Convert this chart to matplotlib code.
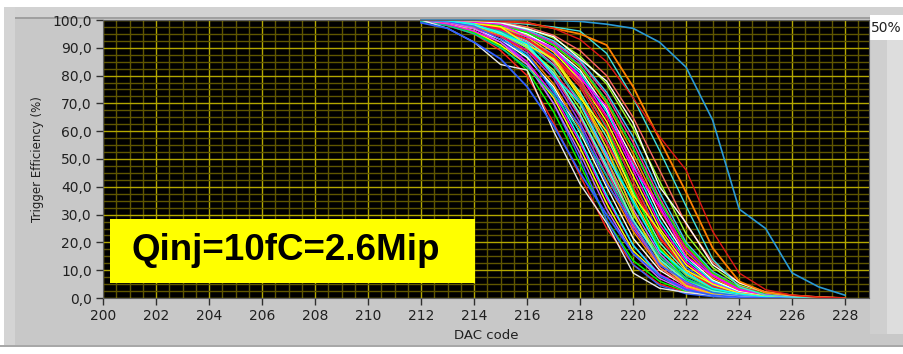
import matplotlib
matplotlib.use('Agg')
import matplotlib.pyplot as plt
from matplotlib.patches import Rectangle
from matplotlib.ticker import MultipleLocator, FuncFormatter

# DAC codes where the efficiency was measured
dac = list(range(212, 229))

# Trigger efficiency (%) of each channel
curves = [
    [100, 98, 95, 89, 80, 63, 44, 25, 12, 5, 2, 0.8, 0.2, 0, 0, 0, 0],
    [99.5, 98.5, 95.5, 90.5, 82, 67, 48, 28, 13.5, 6, 2.3, 0.9, 0.3, 0, 0, 0, 0],
    [100, 99, 97, 93, 85, 70, 50, 28, 12, 4.5, 1.5, 0.5, 0, 0, 0, 0, 0],
    [100, 99, 96, 91, 84, 72, 54, 34, 17, 8, 3, 1.2, 0.4, 0.1, 0, 0, 0],
    [99.8, 98.5, 96, 92, 85, 73, 56, 36, 19, 8.5, 3.5, 1.4, 0.5, 0.1, 0, 0, 0],
    [100, 99.5, 97.5, 94, 87, 75, 57, 37, 19, 8, 3, 1, 0.3, 0, 0, 0, 0],
    [99.8, 99, 96.8, 93, 86.5, 76, 59.5, 40, 21.5, 10, 4.2, 1.6, 0.6, 0.1, 0, 0, 0],
    [100, 99.5, 97.5, 94.5, 88, 77, 61, 42, 24, 11, 4.5, 1.8, 0.7, 0.2, 0, 0, 0],
    [100, 99.6, 98, 95, 89, 79, 63, 44, 25, 12, 5, 2, 0.8, 0.3, 0, 0, 0],
    [100, 99.5, 98, 95.5, 90, 80, 65, 46, 26, 12.5, 5.5, 2.2, 0.9, 0.3, 0.1, 0, 0],
    [100, 99.7, 98.5, 96, 91, 81, 66, 48, 28, 13.5, 6, 2.4, 1, 0.3, 0, 0, 0],
    [100, 99.5, 98, 95, 90, 82, 68, 50, 30, 15, 6.5, 2.5, 1, 0.3, 0, 0, 0],
    [100, 100, 99, 97, 93, 85, 70, 50, 27, 11, 4, 1.2, 0.4, 0, 0, 0, 0],
    [100, 99.8, 99, 96.5, 92, 84, 70, 52, 32, 16, 7, 3, 1.2, 0.4, 0.1, 0, 0],
    [100, 99.7, 98.5, 96, 91.5, 83.5, 71, 54, 34, 17.5, 8, 3.2, 1.3, 0.5, 0.1, 0, 0],
    [100, 99.8, 99, 97, 93, 86, 73, 56, 36, 18.5, 8.5, 3.5, 1.4, 0.5, 0.1, 0, 0],
    [100, 99, 97, 94, 89, 81, 70, 56, 39, 23, 12, 5.5, 2.5, 1, 0.4, 0, 0],
    [100, 99.8, 99, 96.8, 92.5, 85.5, 74, 58, 38, 20, 9.5, 4, 1.5, 0.6, 0.1, 0, 0],
    [100, 99.8, 99, 96.8, 93, 86.5, 76, 59.5, 40, 21.5, 10, 4.2, 1.6, 0.6, 0.1, 0, 0],
    [100, 100, 99.5, 98, 95, 89, 78, 61, 39, 18, 6.5, 2, 0.6, 0.1, 0, 0, 0],
    [100, 99.9, 99.2, 97.3, 93.8, 87.5, 77, 61.5, 42, 23, 11, 4.6, 1.8, 0.7, 0.2, 0, 0],
    [100, 99.9, 99.4, 97.8, 94.5, 88.5, 78.5, 63.5, 44, 25, 12, 5, 2, 0.8, 0.2, 0, 0],
    [100, 99.9, 99.4, 98, 95, 89, 80, 65.5, 46, 26.5, 13, 5.5, 2.2, 0.9, 0.3, 0, 0],
    [100, 100, 99.5, 98, 95, 89.5, 81, 67, 48, 28, 14, 6, 2.4, 1, 0.3, 0, 0],
    [100, 100, 99.5, 98, 95, 90, 82, 68, 50, 30, 15, 6.5, 2.5, 1, 0.3, 0, 0],
    [100, 100, 99.6, 98.4, 95.6, 91, 83, 70, 52, 32, 16.5, 7.2, 2.8, 1.1, 0.4, 0, 0],
    [100, 100, 99.7, 98.6, 96, 91.5, 84, 71, 54, 34, 17.5, 8, 3.2, 1.3, 0.5, 0.1, 0],
    [100, 100, 99.7, 98.7, 96.3, 92, 85, 73, 56, 36, 19, 8.5, 3.5, 1.4, 0.5, 0.1, 0],
    [100, 100, 99.8, 99, 96.5, 92.5, 85.5, 74, 58, 38, 20, 9.5, 4, 1.5, 0.6, 0.1, 0],
    [100, 100, 99.8, 99, 97, 93.5, 87, 77, 61, 42, 23, 11, 4.6, 1.8, 0.7, 0.2, 0],
    [100, 100, 99.9, 99.3, 97.5, 94.5, 89, 80, 65, 46, 26.5, 13, 5.5, 2.2, 1, 0.4, 0],
    [100, 99.2, 97, 92, 84, 70, 52, 32, 16, 7, 2.7, 1, 0.3, 0, 0, 0, 0],
    [99.5, 98, 95, 90, 83, 73, 60, 44, 28, 15, 7, 3, 1.2, 0.4, 0, 0, 0],
    [100, 100, 99.3, 97.5, 94, 87, 73, 54, 31, 13, 4.5, 1.5, 0.4, 0, 0, 0, 0],
    [100, 99.5, 98.5, 96.5, 93, 87, 78, 65, 49, 32, 18, 9, 4, 1.8, 0.8, 0.2, 0],
    [100, 99.6, 98.2, 95.5, 90.5, 81, 66, 47, 28, 14, 6, 2.5, 1, 0.3, 0, 0, 0],
    [100, 99.8, 99, 97, 93, 87, 77, 62, 42, 22, 10, 4, 1.5, 0.5, 0.1, 0, 0],
    [100, 100, 99.5, 98, 95.5, 91, 83.5, 71, 54, 35, 19, 9, 3.8, 1.5, 0.5, 0.1, 0],
    [100, 99.4, 97.8, 93, 88, 74, 62, 41, 27, 12, 6, 2, 0.8, 0.2, 0, 0, 0],
    [100, 99.9, 98.8, 97.5, 91, 86, 72, 60, 37, 24, 10, 5, 1.7, 0.6, 0.1, 0, 0],
    [100, 100, 99.2, 98.5, 94, 90, 79, 69, 47, 33, 15, 8, 2.9, 1.2, 0.3, 0, 0],
    [100, 99.7, 98.6, 95, 91.5, 80, 70, 51, 35, 17, 9, 3.5, 1.5, 0.4, 0, 0, 0],
    [100, 100, 99.6, 99, 96.8, 94, 86, 78, 63, 40, 27, 12, 5.5, 2, 0.8, 0.3, 0],
]
palette = ['#ff2020', '#00ff00', '#3366ff', '#ffff00', '#ff00ff', '#00ffff',
           '#ffffff', '#ff8c00', '#9933ff', '#ff3399', '#33ccff', '#99ff33',
           '#ff6666', '#cc66ff', '#00cc99', '#ffcc00', '#ff0066', '#66ffcc']

# channels that stand apart from the bundle
eff_white = [100, 97, 92, 84, 82, 60, 41, 27, 9, 3.5, 2, 1, 0.5, 0, 0, 0, 0]
eff_blue = [99, 97, 92, 86, 76, 62, 45, 30, 16, 8, 3, 1, 0.3, 0, 0, 0, 0]
eff_cyan = [100, 100, 99.8, 99.3, 98.5, 97.5, 96, 88, 72, 53, 33, 14, 4, 1, 0.3, 0, 0]
eff_orange = [100, 100, 99.8, 99.5, 99, 97, 95, 91, 76, 57, 38, 18, 6, 2, 1, 0.3, 0]
eff_red = [100, 100, 100, 99.5, 99, 97, 93, 85, 72, 58, 46, 24, 9, 3, 1, 0.3, 0]
eff_far = [100, 100, 100, 100, 100, 99.8, 99.5, 98.5, 97, 92, 83, 64, 32, 25, 9, 4, 1]

W, H = 904, 354
fig = plt.figure(figsize=(W / 100, H / 100), dpi=100, facecolor='#c8c8c8')

def px_rect(x0, y0, x1, y1, color, z=0):
    fig.add_artist(Rectangle((x0 / W, 1 - y1 / H), (x1 - x0) / W, (y1 - y0) / H,
                             transform=fig.transFigure, facecolor=color,
                             edgecolor='none', zorder=z))

# panel decorations
px_rect(0, 0, W, 7, '#ffffff')
px_rect(0, 7, W, 17, '#d2d2d2')
px_rect(0, 17, W, 18.5, '#a0a0a0')
px_rect(0, 0, 4, H, '#ffffff')
px_rect(4, 7, 15, 345, '#d4d4d4')
px_rect(0, 345, W, 347, '#a8a8a8')
px_rect(0, 347, W, H, '#ffffff')
px_rect(870, 38, 887, 334, '#cfcfcf')
px_rect(887, 38, W, 334, '#dddddd')
px_rect(870, 15, W, 40, '#ffffff')
fig.text(870.5 / W, 1 - 28 / H, '50%', fontsize=10, va='center', ha='left',
         color='#202020')

ax = fig.add_axes([103 / W, 1 - 298 / H, 766 / W, 278 / H])
ax.set_facecolor('black')
ax.set_xlim(200, 228.9)
ax.set_ylim(0, 100)

ax.xaxis.set_major_locator(MultipleLocator(2))
ax.xaxis.set_minor_locator(MultipleLocator(0.5))
ax.yaxis.set_major_locator(MultipleLocator(10))
ax.yaxis.set_minor_locator(MultipleLocator(2.5))
ax.grid(which='minor', color='#5f5600', lw=1)
ax.grid(which='major', color='#b3a700', lw=1)
ax.set_axisbelow(True)
ax.tick_params(which='minor', length=0)
ax.tick_params(which='major', direction='out', length=5, width=1,
               color='#303030', labelsize=10, labelcolor='#202020', pad=3)
ax.yaxis.set_major_formatter(FuncFormatter(lambda v, p: f'{v:.1f}'.replace('.', ',')))
for s in ax.spines.values():
    s.set_color('#606060')

for i, eff in enumerate(curves):
    ax.plot(dac, eff, color=palette[i % len(palette)], lw=1, clip_on=False)
ax.plot(dac, eff_white, color='#e8e8e8', lw=1, clip_on=False)
ax.plot(dac, eff_blue, color='#2f5fff', lw=1.3, clip_on=False)
ax.plot(dac, eff_cyan, color='#40e0e0', lw=1, clip_on=False)
ax.plot(dac, eff_orange, color='#ff8000', lw=1.3, clip_on=False)
ax.plot(dac, eff_red, color='#e01818', lw=1, clip_on=False)
ax.plot(dac, eff_far, color='#2a9ad6', lw=1.2, clip_on=False)

ax.set_xlabel('DAC code', fontsize=9.5, color='#202020', labelpad=4)
ax.set_ylabel('Trigger Efficiency (%)', fontsize=8.5, color='#202020', labelpad=6)

# yellow label box
px_rect(110, 219, 475, 283, '#ffff00', z=5)
fig.text(286 / W, 1 - 251 / H, 'Qinj=10fC=2.6Mip', fontsize=26.5,
         family='Liberation Sans', weight='bold', ha='center', va='center',
         color='black', zorder=6)

fig.savefig('out.png', dpi=100, facecolor=fig.get_facecolor())
